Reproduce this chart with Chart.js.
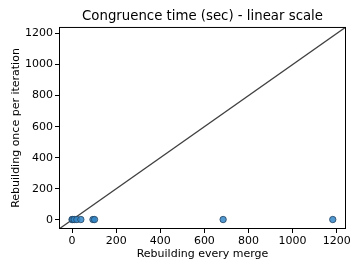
<!DOCTYPE html>
<html>
<head>
<meta charset="utf-8">
<script src="https://cdn.jsdelivr.net/npm/chart.js@4"></script>
<style>
  html, body { margin: 0; padding: 0; background: #fff; }
  #wrap { width: 363px; height: 272px; }
</style>
</head>
<body>
<div id="wrap"><canvas id="grafico"></canvas></div>
<script>
// valores (segundos)
const everyMerge = [0, 3, 10, 22, 40, 95, 102, 685, 1182];
const oncePerIter = [2, 2, 2, 2, 2, 2, 2, 2, 2];
const axisMin = -59;
const axisMax = 1242;
const tickVals = [0, 200, 400, 600, 800, 1000, 1200];

const pontos = everyMerge.map((x, i) => ({ x: x, y: oncePerIter[i] }));
const diagonal = [{ x: axisMin, y: axisMin }, { x: axisMax, y: axisMax }];

const fonte = 'DejaVu Sans';

// contorno da área do gráfico (as 4 bordas)
const bordaPlugin = {
    id: 'borda',
    afterDraw(chart) {
        const a = chart.chartArea;
        const ctx = chart.ctx;
        ctx.save();
        ctx.strokeStyle = '#000';
        ctx.lineWidth = 1;
        ctx.strokeRect(a.left + 0.5, a.top + 0.5, a.right - a.left - 1, a.bottom - a.top - 1);
        ctx.restore();
    }
};

function fixTicks(scale) {
    scale.ticks = tickVals.map(v => ({ value: v }));
}

function setupEixo(titulo) {
    return {
        type: 'linear',
        min: axisMin,
        max: axisMax,
        afterBuildTicks: fixTicks,
        grid: { display: true, drawOnChartArea: false, drawTicks: true, tickLength: 4, color: '#000' },
        border: { display: false },
        ticks: {
            color: '#000',
            padding: 2,
            font: { family: fonte, size: 11 },
            callback: (v) => String(v)
        },
        title: { display: true, text: titulo, color: '#000', padding: { top: 0, bottom: 2 }, font: { family: fonte, size: 11 } }
    };
}

const ctx = document.getElementById('grafico').getContext('2d');
new Chart(ctx, {
    type: 'scatter',
    data: {
        datasets: [
            {
                data: diagonal,
                showLine: true,
                borderColor: '#404040',
                borderWidth: 1.3,
                pointRadius: 0,
                order: 2
            },
            {
                data: pontos,
                backgroundColor: 'rgba(50,135,200,0.85)',
                borderColor: '#23415e',
                borderWidth: 0.8,
                pointRadius: 3.2,
                order: 1
            }
        ]
    },
    options: {
        responsive: true,
        maintainAspectRatio: false,
        animation: false,
        layout: { padding: { left: 10, right: 17, top: 0, bottom: 9 } },
        scales: {
            x: Object.assign(setupEixo('Rebuilding every merge'), {
                afterFit(scale) { scale.height = 34; }
            }),
            y: Object.assign(setupEixo('Rebuilding once per iteration'), {
                afterFit(scale) { scale.width = 49; }
            })
        },
        plugins: {
            legend: { display: false },
            tooltip: { enabled: false },
            title: {
                display: true,
                fullSize: false,
                text: 'Congruence time (sec) - linear scale',
                color: '#000',
                font: { family: fonte, size: 13.3, weight: 'normal' },
                padding: { top: 9, bottom: 2 }
            }
        }
    },
    plugins: [bordaPlugin]
});
</script>
</body>
</html>
